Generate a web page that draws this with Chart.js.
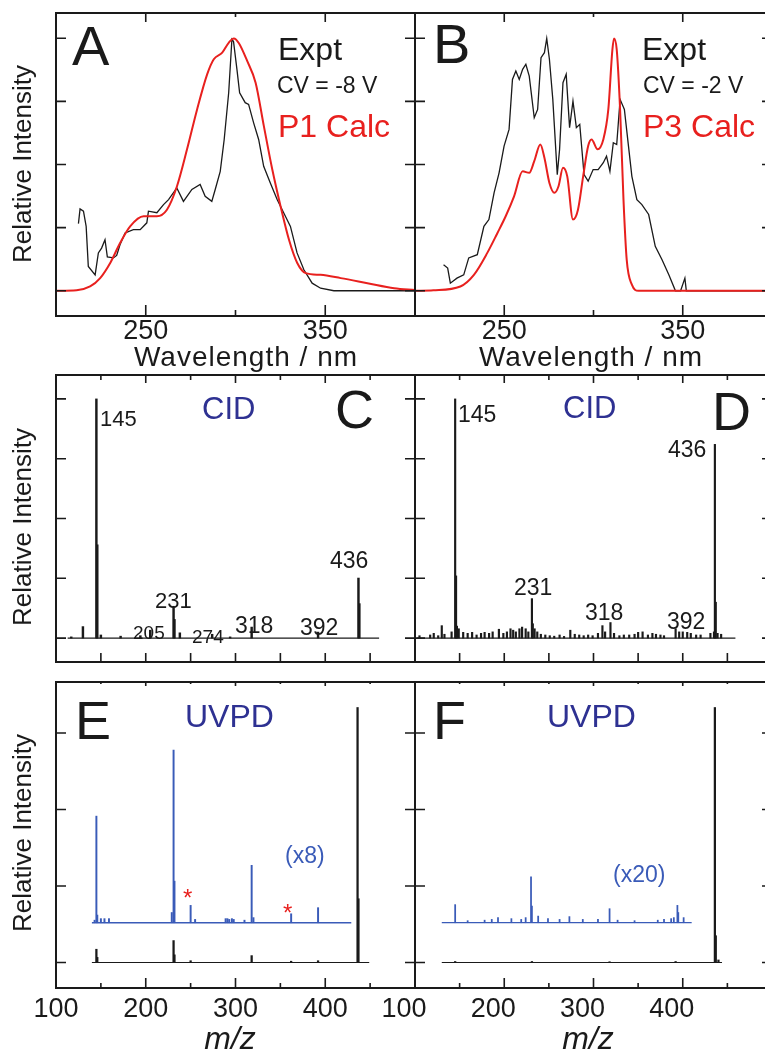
<!DOCTYPE html>
<html>
<head>
<meta charset="utf-8">
<script src="https://cdn.jsdelivr.net/npm/chart.js@4.4.1/dist/chart.umd.min.js"></script>
<style>
html, body { margin: 0; padding: 0; background: #fff; overflow: hidden; }
#fig { position: relative; width: 765px; height: 1055px; overflow: hidden;
       font-family: 'Liberation Sans', Arial, sans-serif; color: #1a1a1a; }
#fig canvas { position: absolute; }
.t { position: absolute; white-space: nowrap; line-height: 1; }
</style>
</head>
<body>
<div id="fig"></div>
<script>
// ---- data: photodissociation spectra (A, B) ----
var expA_nm = [212.5, 213.4, 215.3, 216.8, 218, 221.8, 223.6, 225.4, 227.3, 228.6, 232, 233.8, 235.7, 238.5, 243.1, 246.9, 250.6, 251.5, 256.2, 259.9, 262.7, 267.3, 271, 275.7, 280.3, 283.1, 286.8, 288.7, 291.5, 293.7, 296.2, 298, 298.9, 300.8, 302.3, 305.4, 307.3, 310.1, 312.9, 315.7, 319.4, 323.2, 326.9, 330.6, 334.3, 338.1, 342.7, 347.4, 354.8, 373.4, 400];
var expA_int = [0.266, 0.324, 0.315, 0.255, 0.096, 0.063, 0.15, 0.169, 0.202, 0.134, 0.13, 0.14, 0.183, 0.229, 0.242, 0.242, 0.269, 0.315, 0.309, 0.341, 0.361, 0.407, 0.354, 0.401, 0.421, 0.374, 0.354, 0.401, 0.473, 0.599, 0.784, 0.996, 0.987, 0.877, 0.784, 0.745, 0.738, 0.665, 0.599, 0.493, 0.427, 0.361, 0.308, 0.255, 0.15, 0.083, 0.03, 0.01, 0.0, 0.0, 0.0];
var calcA_nm = [200, 211.5, 219, 224.6, 230.2, 235.7, 241.3, 248.8, 256.2, 261.8, 267.4, 273, 278.6, 284.2, 287.9, 292.6, 296.3, 299.1, 301.9, 306.5, 311.2, 315.8, 320.5, 325.1, 329.8, 334.4, 339.1, 347.4, 358.6, 373.5, 388.4, 400];
var calcA_int = [0, 0.002, 0.017, 0.05, 0.11, 0.189, 0.255, 0.295, 0.295, 0.321, 0.414, 0.56, 0.718, 0.857, 0.917, 0.943, 0.983, 0.999, 0.98, 0.91, 0.824, 0.652, 0.48, 0.335, 0.202, 0.11, 0.07, 0.063, 0.05, 0.03, 0.01, 0.003];

var expB_nm = [216, 218.3, 219.8, 223.5, 227.3, 230.1, 234.9, 238.6, 241.4, 244.3, 247.1, 249.9, 252.7, 254.6, 256.5, 258.4, 260.3, 262.1, 264, 266.8, 268.7, 270.6, 272.5, 273.8, 275.3, 277.2, 279.7, 281, 282.9, 284.7, 286.6, 288.5, 290.4, 292.3, 294.7, 297, 299.8, 302.6, 305.5, 307.3, 309.2, 311.1, 313, 314.9, 317.3, 319.6, 321.5, 324.3, 327.1, 330.9, 334.6, 338.4, 342.2, 345.9, 348.8, 351.2, 352, 400];
var expB_int = [0.103, 0.09, 0.03, 0.05, 0.063, 0.13, 0.143, 0.255, 0.282, 0.388, 0.467, 0.573, 0.639, 0.837, 0.87, 0.837, 0.877, 0.897, 0.85, 0.685, 0.718, 0.923, 0.943, 0.999, 0.917, 0.758, 0.46, 0.56, 0.824, 0.857, 0.646, 0.751, 0.646, 0.659, 0.46, 0.434, 0.48, 0.48, 0.507, 0.533, 0.473, 0.586, 0.579, 0.758, 0.718, 0.573, 0.453, 0.361, 0.341, 0.302, 0.176, 0.123, 0.063, 0.0, 0.0, 0.05, 0.0, 0.0];
var calcB_nm = [200, 210.3, 225.4, 233, 240.5, 246.2, 250.8, 255.5, 260.3, 264, 266.8, 270.2, 272.5, 275.3, 278.1, 280.4, 282.9, 285.3, 288.5, 291.3, 294.2, 297, 298.9, 302.3, 305.5, 308.3, 310.6, 311.5, 313, 314.9, 316.8, 318.6, 321.5, 325.2, 400];
var calcB_int = [0, 0.002, 0.017, 0.063, 0.15, 0.229, 0.295, 0.374, 0.473, 0.467, 0.513, 0.579, 0.527, 0.427, 0.388, 0.414, 0.487, 0.453, 0.282, 0.321, 0.453, 0.573, 0.599, 0.56, 0.599, 0.718, 0.956, 0.999, 0.956, 0.718, 0.361, 0.123, 0.024, 0.0, 0.0];

// ---- data: mass spectra (C-F) ----
var cidC_mz  = [117, 130, 145, 146, 150, 172, 194, 205, 231, 232, 238, 274, 294, 318, 392, 437, 438];
var cidC_int = [0.005, 0.048, 1.0, 0.39, 0.013, 0.008, 0.01, 0.033, 0.133, 0.078, 0.022, 0.016, 0.005, 0.046, 0.025, 0.251, 0.144];
var cidC_range = [113, 460];

var cidD_mz  = [105, 117, 121, 126, 130, 133, 141, 145, 146, 147, 149, 154, 159, 164, 169, 174, 178, 183, 187, 194, 199, 203, 207, 210, 213, 217, 220, 224, 227, 231, 232, 234, 237, 241, 246, 251, 256, 262, 267, 274, 279, 284, 289, 294, 299, 305, 310, 313, 319, 323, 329, 334, 340, 346, 350, 355, 361, 366, 370, 375, 379, 392, 396, 400, 405, 409, 415, 420, 431, 435, 436, 437, 439, 443];
var cidD_int = [0.010, 0.013, 0.02, 0.010, 0.052, 0.016, 0.026, 1.0, 0.26, 0.05, 0.039, 0.024, 0.02, 0.024, 0.013, 0.02, 0.024, 0.02, 0.026, 0.037, 0.02, 0.026, 0.039, 0.033, 0.026, 0.039, 0.046, 0.039, 0.026, 0.165, 0.06, 0.039, 0.026, 0.016, 0.013, 0.01, 0.008, 0.013, 0.007, 0.033, 0.016, 0.013, 0.010, 0.013, 0.010, 0.02, 0.052, 0.026, 0.065, 0.02, 0.01, 0.013, 0.013, 0.016, 0.024, 0.026, 0.013, 0.02, 0.016, 0.013, 0.010, 0.039, 0.026, 0.026, 0.024, 0.02, 0.013, 0.013, 0.02, 0.026, 0.81, 0.15, 0.02, 0.016];
var cidD_range = [102, 459];

var uvE_mz  = [145, 146, 231, 232, 250, 318, 362, 392, 436, 437];
var uvE_int = [0.052, 0.02, 0.086, 0.03, 0.007, 0.027, 0.005, 0.007, 1.0, 0.25];
var uvE_range = [140, 449];
var uvE8_mz  = [143, 145, 146, 150, 154, 159, 229, 231, 232, 250, 255, 289, 291, 293, 296, 298, 310, 318, 320, 362, 392];
var uvE8_int = [0.01, 0.418, 0.03, 0.016, 0.016, 0.016, 0.04, 0.677, 0.163, 0.068, 0.013, 0.016, 0.016, 0.013, 0.016, 0.013, 0.01, 0.225, 0.02, 0.035, 0.059];
var uvE8_range = [140, 429];

var uvF_mz  = [145, 231, 318, 392, 436, 437, 440];
var uvF_int = [0.004, 0.004, 0.003, 0.004, 1.0, 0.105, 0.01];
var uvF_range = [130, 444];
var uvF20_mz  = [145, 159, 178, 186, 193, 208, 219, 224, 230, 231, 238, 249, 262, 273, 288, 305, 318, 327, 346, 372, 379, 387, 390, 394, 395, 401];
var uvF20_int = [0.071, 0.008, 0.01, 0.013, 0.02, 0.016, 0.013, 0.02, 0.18, 0.065, 0.026, 0.016, 0.013, 0.024, 0.013, 0.013, 0.055, 0.01, 0.008, 0.01, 0.013, 0.016, 0.02, 0.068, 0.04, 0.02];
var uvF20_range = [130, 410];

var zoomOffset = 0.156;   // baseline of the magnified (blue) traces

// ---- ticks ----
var wlMajor = [250, 350];
var wlMinor = [300];
var wlLabels = [250, 350];
var mzMajor = [200, 300, 400];
var mzMinor = [150, 250, 350, 450];
var mzLabels = [100, 200, 300, 400];
var yTicksCid = [0, 0.25, 0.5, 0.75, 1];
var yTicksUv = [0, 0.3, 0.6, 0.9];

var FONT = "'Liberation Sans', Arial, sans-serif";
var BLACK = '#1a1a1a';
var RED = '#e8201e';
var BLUE = '#3a5bb8';
var NAVY = '#2e3192';
var fig = document.getElementById('fig');

function pts(xs, ys) {
    return xs.map(function (x, i) { return { x: x, y: ys[i] }; });
}
function sticks(xs, ys, base) {
    return xs.map(function (x, i) {
        return base ? { x: x, y: [base, base + ys[i]] } : { x: x, y: ys[i] };
    });
}
function baseline(range, y) {
    return [{ x: range[0], y: y }, { x: range[1], y: y }];
}

// frame + inward tick marks
var framePlugin = {
    id: 'frame',
    afterDraw: function (chart, args, o) {
        var a = chart.chartArea, ctx = chart.ctx;
        var xs = chart.scales.x, ys = chart.scales.y;
        ctx.save();
        ctx.strokeStyle = BLACK;
        ctx.lineWidth = 1.6;
        ctx.beginPath();
        o.xMajor.forEach(function (v) {
            var p = xs.getPixelForValue(v);
            ctx.moveTo(p, a.bottom); ctx.lineTo(p, a.bottom - o.bottom[0]);
            ctx.moveTo(p, a.top); ctx.lineTo(p, a.top + o.top[0]);
        });
        o.xMinor.forEach(function (v) {
            var p = xs.getPixelForValue(v);
            ctx.moveTo(p, a.bottom); ctx.lineTo(p, a.bottom - o.bottom[1]);
            ctx.moveTo(p, a.top); ctx.lineTo(p, a.top + o.top[1]);
        });
        o.y.forEach(function (v) {
            var p = ys.getPixelForValue(v);
            ctx.moveTo(a.left, p); ctx.lineTo(a.left + 10, p);
            ctx.moveTo(a.right, p); ctx.lineTo(a.right - 10, p);
        });
        ctx.stroke();
        ctx.lineWidth = 2;
        ctx.strokeRect(a.left, a.top, a.right - a.left, a.bottom - a.top);
        ctx.restore();
    }
};

function makePanel(p) {
    var padL = 40, padR = 30, padT = 20, padB = p.labels ? 50 : 20;
    var cv = document.createElement('canvas');
    var w = p.frame.w + padL + padR, h = p.frame.h + padT + padB;
    cv.width = w; cv.height = h;
    cv.style.left = (p.frame.l - padL) + 'px';
    cv.style.top = (p.frame.t - padT) + 'px';
    cv.style.width = w + 'px'; cv.style.height = h + 'px';
    fig.appendChild(cv);

    new Chart(cv.getContext('2d'), {
        type: p.type,
        data: { datasets: p.datasets },
        plugins: [framePlugin],
        options: {
            responsive: false,
            animation: false,
            devicePixelRatio: 1,
            layout: { padding: { left: padL, right: padR, top: padT, bottom: p.labels ? 0 : padB } },
            plugins: {
                legend: { display: false },
                tooltip: { enabled: false },
                frame: p.ticks
            },
            scales: {
                x: {
                    type: 'linear', min: p.xRange[0], max: p.xRange[1], offset: false,
                    display: !!p.labels,
                    grid: { display: false, drawTicks: false },
                    border: { display: false },
                    afterBuildTicks: function (s) {
                        if (p.labels) s.ticks = p.labels.map(function (v) { return { value: v }; });
                    },
                    afterFit: function (s) { s.height = padB; },
                    ticks: {
                        autoSkip: false, maxRotation: 0, minRotation: 0,
                        padding: p.labelPad || 0, labelOffset: p.labelOffset || 0,
                        color: BLACK, font: { family: FONT, size: 27 },
                        callback: function (v) { return String(v); }
                    }
                },
                y: { type: 'linear', min: p.yRange[0], max: p.yRange[1], display: false }
            }
        }
    });
}

function lineSet(data, color, width, smooth) {
    return {
        type: 'line', data: data, borderColor: color, borderWidth: width,
        pointRadius: 0, fill: false, tension: 0,
        cubicInterpolationMode: smooth ? 'monotone' : 'default'
    };
}
function barSet(data, color, thick) {
    return {
        type: 'bar', data: data, backgroundColor: color, borderWidth: 0,
        barThickness: thick, grouped: false
    };
}

var frames = {
    A: { l: 56, t: 13, w: 359, h: 303 },
    B: { l: 415, t: 13, w: 357, h: 303 },
    C: { l: 56, t: 375, w: 359, h: 307 },
    D: { l: 415, t: 375, w: 357, h: 307 },
    E: { l: 56, t: 682, w: 359, h: 306 },
    F: { l: 415, t: 682, w: 357, h: 306 }
};
var wlTicks = { xMajor: wlMajor, xMinor: wlMinor, y: yTicksCid, bottom: [11, 6], top: [9, 4] };
var cidTicks = { xMajor: mzMajor, xMinor: mzMinor, y: yTicksCid, bottom: [9, 9], top: [8, 5] };
var uvTicks = { xMajor: mzMajor, xMinor: mzMinor, y: yTicksUv, bottom: [10, 5], top: [4, 2] };

makePanel({ frame: frames.A, type: 'line', xRange: [200, 400], yRange: [-0.1, 1.1], labels: wlLabels, labelPad: -1, ticks: wlTicks,
    datasets: [lineSet(pts(calcA_nm, calcA_int), RED, 2, true), lineSet(pts(expA_nm, expA_int), BLACK, 1.3, false)] });
makePanel({ frame: frames.B, type: 'line', xRange: [200, 400], yRange: [-0.1, 1.1], labels: wlLabels, labelPad: -1, ticks: wlTicks,
    datasets: [lineSet(pts(calcB_nm, calcB_int), RED, 2, true), lineSet(pts(expB_nm, expB_int), BLACK, 1.3, false)] });
makePanel({ frame: frames.C, type: 'bar', xRange: [100, 500], yRange: [-0.1, 1.1], ticks: cidTicks,
    datasets: [barSet(sticks(cidC_mz, cidC_int), BLACK, 1.8), lineSet(baseline(cidC_range, 0), BLACK, 1.2)] });
makePanel({ frame: frames.D, type: 'bar', xRange: [100, 500], yRange: [-0.1, 1.1], ticks: cidTicks,
    datasets: [barSet(sticks(cidD_mz, cidD_int), BLACK, 1.5), lineSet(baseline(cidD_range, 0), BLACK, 1.2)] });
makePanel({ frame: frames.E, type: 'bar', xRange: [100, 500], yRange: [-0.1, 1.1], labels: mzLabels, labelPad: 5, ticks: uvTicks,
    datasets: [barSet(sticks(uvE_mz, uvE_int), BLACK, 1.6), lineSet(baseline(uvE_range, 0), BLACK, 1),
               barSet(sticks(uvE8_mz, uvE8_int, zoomOffset), BLUE, 1.3), lineSet(baseline(uvE8_range, zoomOffset), BLUE, 1.4)] });
makePanel({ frame: frames.F, type: 'bar', xRange: [100, 500], yRange: [-0.1, 1.1], labels: mzLabels, labelPad: 5, labelOffset: -11, ticks: uvTicks,
    datasets: [barSet(sticks(uvF_mz, uvF_int), BLACK, 1.6), lineSet(baseline(uvF_range, 0), BLACK, 1),
               barSet(sticks(uvF20_mz, uvF20_int, zoomOffset), BLUE, 1.1), lineSet(baseline(uvF20_range, zoomOffset), BLUE, 1.2)] });

// ---- text ----
function addText(str, x, base, size, color, o) {
    o = o || {};
    var d = document.createElement('div');
    d.className = 't';
    d.textContent = str;
    d.style.fontSize = size + 'px';
    d.style.color = color || BLACK;
    d.style.left = x + 'px';
    d.style.top = (base - 0.847 * size) + 'px';
    if (o.center) d.style.transform = 'translateX(-50%)';
    if (o.italic) d.style.fontStyle = 'italic';
    if (o.ls) d.style.letterSpacing = o.ls + 'px';
    fig.appendChild(d);
}
function addVText(str, cx, cy, size) {
    var d = document.createElement('div');
    d.className = 't';
    d.textContent = str;
    d.style.fontSize = size + 'px';
    d.style.left = cx + 'px';
    d.style.top = cy + 'px';
    d.style.transform = 'translate(-50%,-50%) rotate(-90deg)';
    fig.appendChild(d);
}

addText('A', 72, 65, 56);
addText('Expt', 278, 60, 32);
addText('CV = -8 V', 277, 93, 23);
addText('P1 Calc', 278, 137, 32, RED);
addText('B', 433, 63, 56);
addText('Expt', 642, 60, 32);
addText('CV = -2 V', 643, 93, 23);
addText('P3 Calc', 643, 137, 32, RED);

addText('C', 335, 428, 54);
addText('CID', 202, 419, 31, NAVY);
addText('145', 100, 427, 22);
addText('205', 133, 639, 19);
addText('231', 155, 609, 22);
addText('274', 192, 643, 19);
addText('318', 235, 633, 23);
addText('392', 300, 635, 23);
addText('436', 330, 568, 23);

addText('D', 712, 430, 54);
addText('CID', 563, 418, 31, NAVY);
addText('145', 458, 422, 23);
addText('436', 668, 457, 23);
addText('231', 514, 595, 23);
addText('318', 585, 620, 23);
addText('392', 667, 629, 23);

addText('E', 75, 739, 54);
addText('UVPD', 185, 727, 32, NAVY);
addText('(x8)', 285, 863, 23, BLUE);
addText('*', 183, 906, 24, RED);
addText('*', 283, 921, 24, RED);

addText('F', 433, 739, 54);
addText('UVPD', 547, 727, 32, NAVY);
addText('(x20)', 613, 882, 23, BLUE);

addVText('Relative Intensity', 22, 164, 26);
addVText('Relative Intensity', 22, 527, 26);
addVText('Relative Intensity', 22, 833, 26);
addText('Wavelength / nm', 246, 367, 28, BLACK, { center: true, ls: 1 });
addText('Wavelength / nm', 591, 367, 28, BLACK, { center: true, ls: 1 });
addText('m/z', 230, 1049, 32, BLACK, { center: true, italic: true });
addText('m/z', 588, 1049, 32, BLACK, { center: true, italic: true });
</script>
</body>
</html>
